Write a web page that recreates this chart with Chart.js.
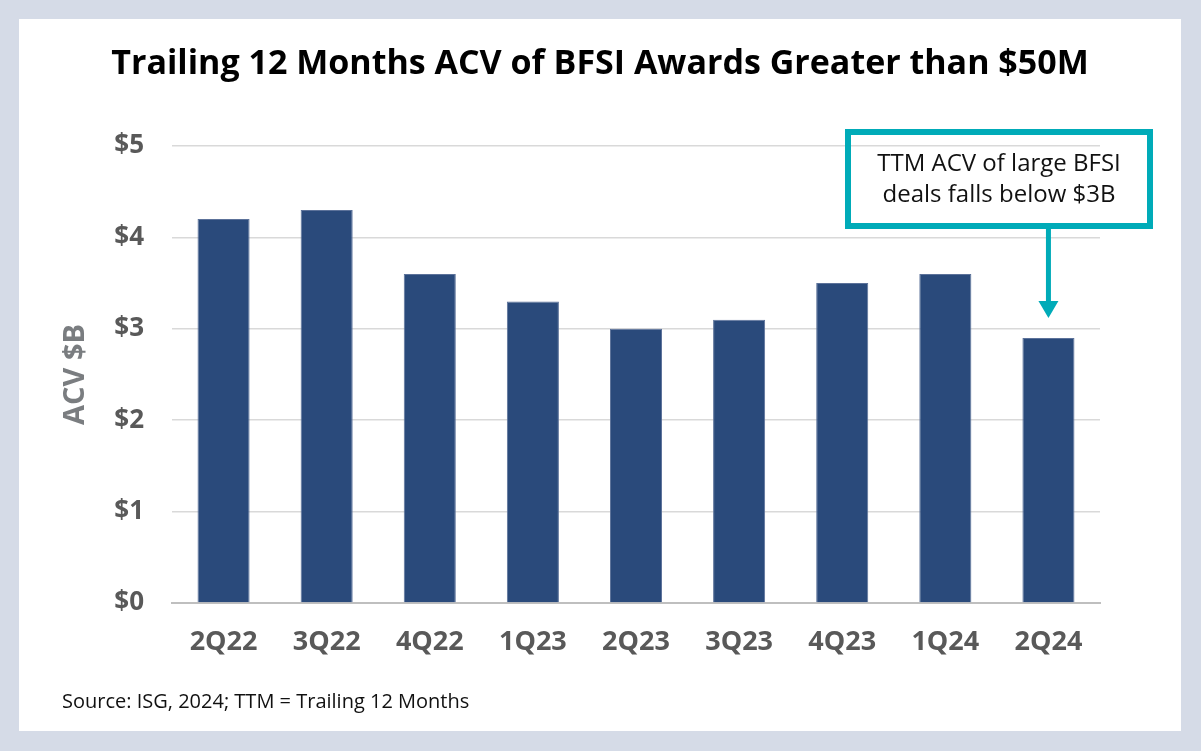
<!DOCTYPE html>
<html>
<head>
<meta charset="utf-8">
<script src="https://cdn.jsdelivr.net/npm/chart.js@4"></script>
<style>
  html, body { margin: 0; padding: 0; background: #d5dbe7; }
  #wrap { width: 1201px; height: 751px; }
</style>
</head>
<body>
<div id="wrap"><canvas id="barras" width="1201" height="751"></canvas></div>
<script>
const trimestres = ["2Q22", "3Q22", "4Q22", "1Q23", "2Q23", "3Q23", "4Q23", "1Q24", "2Q24"];
const acv = [4.2, 4.3, 3.6, 3.3, 3.0, 3.1, 3.5, 3.6, 2.9];
const ticksY = [0, 1, 2, 3, 4, 5];
const titulo = "Trailing 12 Months ACV of BFSI Awards Greater than $50M";
const nota = ["TTM ACV of large BFSI", "deals falls below $3B"];
const fuente = "Source: ISG, 2024; TTM = Trailing 12 Months";

const FONT = "'Open Sans', sans-serif";
const TEAL = "#00abb8";

// fondo gris con panel blanco
const fondo = {
    id: "fondo",
    beforeDraw(chart) {
        const c = chart.ctx;
        c.save();
        c.fillStyle = "#d5dbe7";
        c.fillRect(0, 0, chart.width, chart.height);
        c.fillStyle = "#ffffff";
        c.fillRect(19, 19, chart.width - 39, chart.height - 39);
        c.restore();
    }
};

// titulo, caja de nota + flecha, fuente
const extras = {
    id: "extras",
    afterDraw(chart) {
        const c = chart.ctx;
        const x = chart.scales.x, y = chart.scales.y;
        const last = acv.length - 1;
        const ax = x.getPixelForValue(last);
        const tip = y.getPixelForValue(acv[last]) - 20;
        c.save();

        // titulo centrado en el panel
        c.fillStyle = "#000000";
        c.font = "bold 34px " + FONT;
        c.textAlign = "center";
        c.textBaseline = "middle";
        c.fillText(titulo, 600, 64);

        // caja
        const bx = 848, by = 132, bw = 302, bh = 94;
        c.strokeStyle = TEAL;
        c.lineWidth = 6;
        c.strokeRect(bx, by, bw, bh);

        // flecha
        c.beginPath();
        c.moveTo(ax, by + bh + 3);
        c.lineTo(ax, tip - 14);
        c.lineWidth = 5;
        c.stroke();
        c.beginPath();
        c.moveTo(ax - 10, tip - 17);
        c.lineTo(ax + 10, tip - 17);
        c.lineTo(ax, tip);
        c.closePath();
        c.fillStyle = TEAL;
        c.fill();

        // texto de la nota
        c.fillStyle = "#111111";
        c.font = "24px " + FONT;
        c.fillText(nota[0], bx + bw / 2, 164);
        c.fillText(nota[1], bx + bw / 2, 195);

        // fuente
        c.textAlign = "left";
        c.textBaseline = "alphabetic";
        c.font = "20px " + FONT;
        c.fillText(fuente, 62, 708);
        c.restore();
    }
};

const datos = {
    labels: trimestres,
    datasets: [{
        label: "ACV",
        data: acv,
        backgroundColor: "#2a4a7b",
        borderColor: "#5c729a",
        borderWidth: 1,
        categoryPercentage: 1,
        barPercentage: 0.505
    }]
};

const config = {
    type: "bar",
    data: datos,
    options: {
        responsive: false,
        maintainAspectRatio: false,
        animation: false,
        layout: { padding: { left: 40, right: 101, top: 146, bottom: 0 } },
        plugins: {
            legend: { display: false },
            tooltip: { enabled: false },
            title: { display: false }
        },
        scales: {
            x: {
                grid: { display: false, drawTicks: false },
                border: { color: "#bfbfbf", width: 2 },
                ticks: {
                    color: "#595959",
                    padding: 23,
                    font: { family: FONT, size: 27, weight: "bold", lineHeight: 1.2 }
                },
                afterFit(scale) { scale.height = 148; }
            },
            y: {
                min: 0,
                max: 5,
                afterBuildTicks(scale) { scale.ticks = ticksY.map(v => ({ value: v })); },
                grid: { color: "#d9d9d9", lineWidth: 1.5, drawTicks: false },
                border: { display: false },
                ticks: {
                    color: "#595959",
                    padding: 28,
                    font: { family: FONT, size: 26, weight: "bold" },
                    callback: v => "$" + v
                },
                title: {
                    display: true,
                    text: "ACV $B",
                    color: "#7a7d80",
                    font: { family: FONT, size: 29, weight: "bold", lineHeight: 1.2 },
                    padding: { top: 18, bottom: 0 }
                },
                afterFit(scale) { scale.width = 132; }
            }
        }
    },
    plugins: [fondo, extras]
};

const ctx = document.getElementById("barras").getContext("2d");
new Chart(ctx, config);
</script>
</body>
</html>
